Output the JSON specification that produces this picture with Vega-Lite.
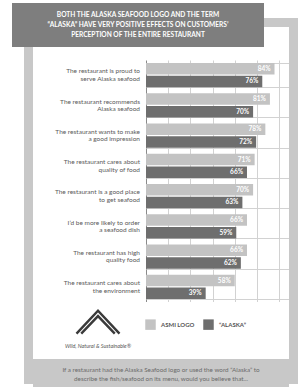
{
  "$schema": "https://vega.github.io/schema/vega-lite/v6.json",
  "background": "white",
  "padding": {"left": 12, "top": 3, "right": 0, "bottom": 0},
  "spacing": 0,
  "config": {"view": {"stroke": null}, "font": "Lato", "concat": {"spacing": 0}},
  "datasets": {
    "bars": [
      {"statement": "The restaurant is proud to|serve Alaska seafood", "series": "ASMI LOGO", "value": 0.84},
      {"statement": "The restaurant is proud to|serve Alaska seafood", "series": "“ALASKA”", "value": 0.76},
      {"statement": "The restaurant recommends|Alaska seafood", "series": "ASMI LOGO", "value": 0.81},
      {"statement": "The restaurant recommends|Alaska seafood", "series": "“ALASKA”", "value": 0.70},
      {"statement": "The restaurant wants to make|a good impression", "series": "ASMI LOGO", "value": 0.78},
      {"statement": "The restaurant wants to make|a good impression", "series": "“ALASKA”", "value": 0.72},
      {"statement": "The restaurant cares about|quality of food", "series": "ASMI LOGO", "value": 0.71},
      {"statement": "The restaurant cares about|quality of food", "series": "“ALASKA”", "value": 0.66},
      {"statement": "The restaurant is a good place|to get seafood", "series": "ASMI LOGO", "value": 0.70},
      {"statement": "The restaurant is a good place|to get seafood", "series": "“ALASKA”", "value": 0.63},
      {"statement": "I’d be more likely to order|a seafood dish", "series": "ASMI LOGO", "value": 0.66},
      {"statement": "I’d be more likely to order|a seafood dish", "series": "“ALASKA”", "value": 0.59},
      {"statement": "The restaurant has high|quality food", "series": "ASMI LOGO", "value": 0.66},
      {"statement": "The restaurant has high|quality food", "series": "“ALASKA”", "value": 0.62},
      {"statement": "The restaurant cares about|the environment", "series": "ASMI LOGO", "value": 0.58},
      {"statement": "The restaurant cares about|the environment", "series": "“ALASKA”", "value": 0.39}
    ],
    "empty": []
  },
  "vconcat": [
    {
      "spacing": 0,
      "hconcat": [
        {
          "width": 252, "height": 44,
          "view": {"fill": "#7e7e7e", "stroke": null},
          "data": {"values": [{"t": "BOTH THE ALASKA SEAFOOD LOGO AND THE TERM\n“ALASKA” HAVE VERY POSITIVE EFFECTS ON CUSTOMERS’\nPERCEPTION OF THE ENTIRE RESTAURANT"}]},
          "mark": {"type": "text", "lineBreak": "\n", "color": "white", "fontSize": 6.6, "fontWeight": "bold", "align": "center", "baseline": "middle", "lineHeight": 10, "dy": -10},
          "encoding": {"text": {"field": "t"}}
        },
        {
          "spacing": 0,
          "vconcat": [
            {"width": 34, "height": 15, "view": {"fill": "white", "stroke": null}, "data": {"name": "empty"}, "mark": "point"},
            {"width": 34, "height": 9, "view": {"fill": "#c8c8c8", "stroke": null}, "data": {"name": "empty"}, "mark": "point"},
            {
              "spacing": 0,
              "hconcat": [
                {"width": 25, "height": 20, "view": {"fill": "white", "stroke": null}, "data": {"name": "empty"}, "mark": "point"},
                {"width": 9, "height": 20, "view": {"fill": "#c8c8c8", "stroke": null}, "data": {"name": "empty"}, "mark": "point"}
              ]
            }
          ]
        }
      ]
    },
    {
      "spacing": 0,
      "hconcat": [
        {"width": 12, "height": 337, "view": {"fill": "white", "stroke": null}, "data": {"name": "empty"}, "mark": "point"},
        {"width": 9, "height": 337, "view": {"fill": "#c8c8c8", "stroke": null}, "data": {"name": "empty"}, "mark": "point"},
        {
          "spacing": 0,
          "vconcat": [
            {
              "spacing": 0,
              "hconcat": [
                {
                  "spacing": 0,
                  "vconcat": [
                    {"width": 113, "height": 13, "view": {"fill": "white", "stroke": null}, "data": {"name": "empty"}, "mark": "point"},
                    {
                      "width": 113, "height": 242,
                      "view": {"fill": "white", "stroke": null},
                      "data": {"name": "bars"},
                      "transform": [{"filter": "datum.series === 'ASMI LOGO'"}],
                      "mark": {"type": "text", "lineBreak": "|", "align": "right", "baseline": "middle", "dx": -6, "dy": -3.75, "fontSize": 6.5, "color": "#5a5a5a", "lineHeight": 7.5},
                      "encoding": {
                        "x": {"value": "width"},
                        "y": {"field": "statement", "type": "nominal", "sort": null, "scale": {"paddingInner": 0.2, "paddingOuter": 0.1}, "axis": null},
                        "text": {"field": "statement"}
                      }
                    },
                    {"width": 113, "height": 3, "view": {"fill": "white", "stroke": null}, "data": {"name": "empty"}, "mark": "point"},
                    {
                      "spacing": 0,
                      "hconcat": [
                        {"width": 17, "height": 23, "view": {"fill": "white", "stroke": null}, "data": {"name": "empty"}, "mark": "point"},
                        {
                          "width": 96, "height": 23,
                          "view": {"fill": "white", "stroke": null},
                          "data": {"values": [{"brand": "Alaska Seafood"}]},
                          "mark": {"type": "point", "shape": "M-1,0.52L0,-0.55L1,0.52M-0.78,0.52L0,-0.3L0.78,0.52", "size": 1849, "filled": false, "stroke": "#3a3a3a", "strokeWidth": 2.4, "opacity": 1},
                          "encoding": {}
                        }
                      ]
                    },
                    {
                      "spacing": 0,
                      "hconcat": [
                        {"width": 17, "height": 14, "view": {"fill": "white", "stroke": null}, "data": {"name": "empty"}, "mark": "point"},
                        {
                          "width": 96, "height": 14,
                          "view": {"fill": "white", "stroke": null},
                          "data": {"values": [{"t": "Wild, Natural & Sustainable®"}]},
                          "mark": {"type": "text", "fontStyle": "italic", "fontSize": 5.4, "color": "#555", "align": "center", "baseline": "middle"},
                          "encoding": {"text": {"field": "t"}}
                        }
                      ]
                    },
                    {"width": 113, "height": 6, "view": {"fill": "white", "stroke": null}, "data": {"name": "empty"}, "mark": "point"}
                  ]
                },
                {
                  "spacing": 0,
                  "vconcat": [
                    {"width": 143, "height": 13, "view": {"fill": "white", "stroke": null}, "data": {"name": "empty"}, "mark": "point"},
                    {
                      "width": 143, "height": 242,
                      "view": {"fill": "white", "stroke": null},
                      "data": {"name": "bars"},
                      "encoding": {
                        "y": {
                          "field": "statement", "type": "nominal", "sort": null,
                          "scale": {"paddingInner": 0.2, "paddingOuter": 0.1},
                          "axis": {"title": null, "labels": false, "ticks": false, "domain": false, "grid": true, "gridColor": "#d2d2d2", "tickBand": "extent"}
                        },
                        "yOffset": {"field": "series", "type": "nominal", "sort": ["ASMI LOGO", "“ALASKA”"], "scale": {"paddingInner": 0.08}},
                        "x": {
                          "field": "value", "type": "quantitative",
                          "scale": {"domain": [0, 0.9346], "nice": false, "zero": true},
                          "axis": {"title": null, "labels": false, "ticks": false, "domain": false, "grid": true, "values": [0, 0.145, 0.29, 0.435, 0.58, 0.725, 0.87],
                            "gridColor": {"condition": {"test": "datum.value === 0", "value": "#8a8a8a"}, "value": "#d2d2d2"}}
                        }
                      },
                      "layer": [
                        {
                          "mark": {"type": "bar"},
                          "encoding": {
                            "color": {
                              "field": "series", "type": "nominal",
                              "scale": {"domain": ["ASMI LOGO", "“ALASKA”"], "range": ["#c3c3c3", "#6e6e6e"]},
                              "legend": {
                                "orient": "none", "legendX": 133, "legendY": 316, "direction": "horizontal", "title": null,
                                "symbolType": "square", "symbolSize": 110, "symbolStrokeWidth": 0, "symbolOpacity": 1,
                                "labelFontSize": 6, "labelFontWeight": "bold", "labelColor": "#555", "columnPadding": 8, "labelOffset": 5
                              }
                            }
                          }
                        },
                        {
                          "mark": {"type": "text", "align": "right", "baseline": "middle", "dx": -4, "color": "white", "fontSize": 6.5, "fontWeight": "bold"},
                          "encoding": {"text": {"field": "value", "type": "quantitative", "format": ".0%"}}
                        }
                      ]
                    },
                    {"width": 143, "height": 46, "view": {"fill": "white", "stroke": null}, "data": {"name": "empty"}, "mark": "point"}
                  ]
                }
              ]
            },
            {
              "width": 256, "height": 36,
              "view": {"fill": "#c8c8c8", "stroke": null},
              "data": {"values": [{"t": "If a restaurant had the Alaska Seafood logo or used the word “Alaska” to\ndescribe the fish/seafood on its menu, would you believe that..."}]},
              "mark": {"type": "text", "lineBreak": "\n", "color": "#6a6a6a", "fontSize": 6.3, "align": "center", "baseline": "middle", "lineHeight": 9, "dy": -7},
              "encoding": {"text": {"field": "t"}}
            }
          ]
        },
        {"width": 9, "height": 337, "view": {"fill": "#c8c8c8", "stroke": null}, "data": {"name": "empty"}, "mark": "point"}
      ]
    }
  ]
}
